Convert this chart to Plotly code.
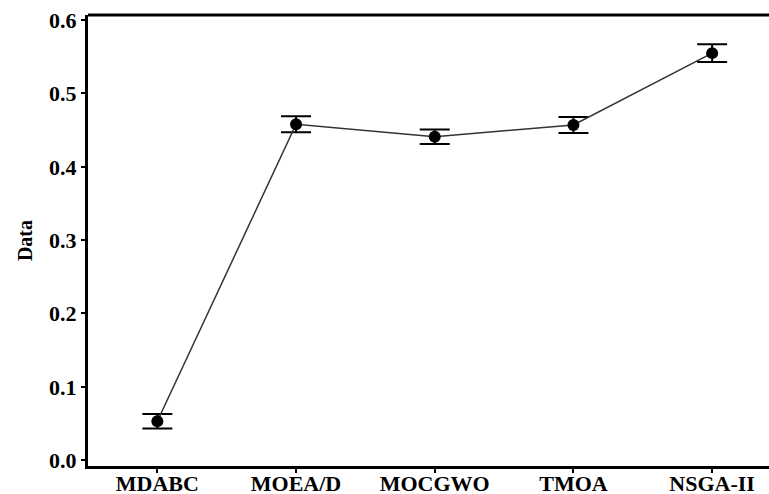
import plotly.graph_objects as go

categories = ["MDABC", "MOEA/D", "MOCGWO", "TMOA", "NSGA-II"]
means = [0.053, 0.458, 0.441, 0.457, 0.555]
errors = [0.010, 0.011, 0.010, 0.011, 0.012]
y_ticks = [0.0, 0.1, 0.2, 0.3, 0.4, 0.5, 0.6]

font_family = "Liberation Serif, Times New Roman, serif"

fig = go.Figure()
fig.add_trace(go.Scatter(
    x=list(range(len(categories))), y=means,
    mode="lines+markers",
    line=dict(color="#333333", width=1.5),
    marker=dict(color="black", size=12),
    error_y=dict(type="data", array=errors, visible=True, color="black", thickness=2, width=15),
    showlegend=False,
))

# top frame line
fig.add_shape(type="line", xref="paper", yref="paper", x0=0, x1=1, y0=1, y1=1,
              line=dict(color="black", width=3))

fig.update_layout(
    width=769, height=494,
    margin=dict(l=88, r=0, t=15, b=28),
    paper_bgcolor="white", plot_bgcolor="white",
    font=dict(family=font_family, size=22, color="black"),
    xaxis=dict(
        range=[-0.5, 4.41], tickmode="array",
        tickvals=list(range(len(categories))), ticktext=categories,
        showline=True, linecolor="black", linewidth=3,
        ticks="outside", ticklen=4, tickwidth=2, tickcolor="black",
        showgrid=False, zeroline=False, automargin=False,
        ticklabelstandoff=-8,
        tickfont=dict(family=font_family, size=22, color="black", weight="bold"),
    ),
    yaxis=dict(
        range=[-0.008, 0.607], tickmode="array",
        tickvals=y_ticks, ticktext=[f"{v:.1f}" for v in y_ticks],
        showline=True, linecolor="black", linewidth=3,
        ticks="outside", ticklen=4, tickwidth=2, tickcolor="black",
        showgrid=False, zeroline=False, automargin=False,
        tickfont=dict(family=font_family, size=22, color="black", weight="bold"),
        title=dict(text="<b>Data</b>", font=dict(family=font_family, size=20, color="black"), standoff=12),
    ),
)

fig.write_html("out.html",
               config={"displayModeBar": False},
               post_script="document.body.style.margin='0';document.body.style.overflow='hidden';")
